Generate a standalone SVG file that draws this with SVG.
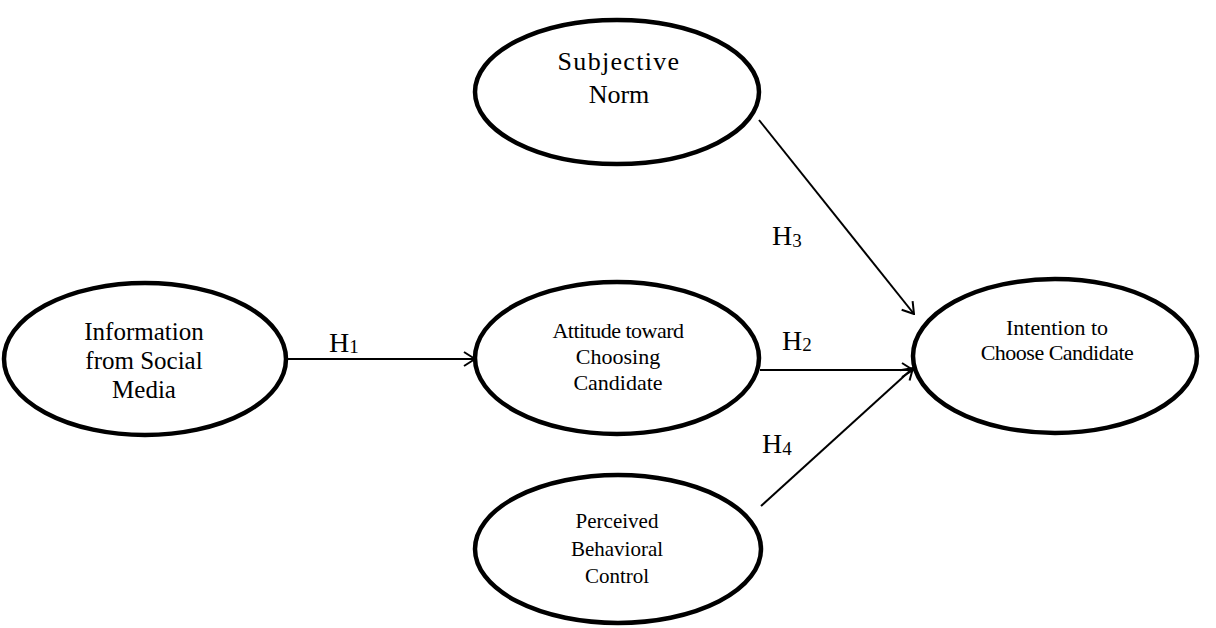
<svg xmlns="http://www.w3.org/2000/svg" width="1216" height="628" viewBox="0 0 1216 628">
<style>
.node{fill:#fff;stroke:#000;stroke-width:4.5}
.t{font-family:"Liberation Serif","Times New Roman",serif;fill:#000;text-anchor:middle}
.h{font-family:"Liberation Serif","Times New Roman",serif;fill:#000;font-size:28px}
.sub{font-size:19px}
.c{fill:none;stroke:#000;stroke-width:2}
</style>
<defs>
<marker id="arr" viewBox="0 0 14 16" refX="13" refY="8" markerWidth="14" markerHeight="16" markerUnits="userSpaceOnUse" orient="auto">
<path d="M2,1 L13,8 L2,15" fill="none" stroke="#000" stroke-width="2"/>
</marker>
</defs>
<rect width="1216" height="628" fill="#fff"/>
<g id="connectors">
<line class="c" x1="287" y1="359" x2="475" y2="359" marker-end="url(#arr)"/>
<line class="c" x1="760" y1="370" x2="913" y2="370" stroke-width="3" marker-end="url(#arr)"/>
<line class="c" x1="759" y1="120" x2="914" y2="314" marker-end="url(#arr)"/>
<line class="c" x1="761" y1="506" x2="913" y2="368" stroke-width="2.5" marker-end="url(#arr)"/>
</g>
<g id="labels">
<text class="h" x="329" y="352">H<tspan class="sub" dy="1">1</tspan></text>
<text class="h" x="782" y="350">H<tspan class="sub" dy="1">2</tspan></text>
<text class="h" x="772" y="245">H<tspan class="sub" dy="2">3</tspan></text>
<text class="h" x="762" y="453">H<tspan class="sub" dy="2">4</tspan></text>
</g>
<g id="info">
<ellipse class="node" cx="145" cy="359" rx="141" ry="76"/>
<text class="t" font-size="25" x="144"><tspan x="144" y="340">Information</tspan><tspan x="144" y="369">from Social</tspan><tspan x="144" y="398">Media</tspan></text>
</g>
<g id="attitude">
<ellipse class="node" cx="617" cy="358" rx="142" ry="76"/>
<text class="t" font-size="22" x="618"><tspan x="618" y="338" letter-spacing="-0.5">Attitude toward</tspan><tspan x="618" y="364">Choosing</tspan><tspan x="618" y="390">Candidate</tspan></text>
</g>
<g id="intention">
<ellipse class="node" cx="1055" cy="356" rx="142" ry="77"/>
<text class="t" font-size="22" x="1057"><tspan x="1057" y="335">Intention to</tspan><tspan x="1057" y="360" letter-spacing="-0.5">Choose Candidate</tspan></text>
</g>
<g id="subjective">
<ellipse class="node" cx="617" cy="92" rx="142" ry="72"/>
<text class="t" font-size="26" x="619"><tspan x="619" y="70" letter-spacing="1.3">Subjective</tspan><tspan x="619" y="103">Norm</tspan></text>
</g>
<g id="perceived">
<ellipse class="node" cx="618" cy="549" rx="143" ry="74"/>
<text class="t" font-size="21" x="617"><tspan x="617" y="528">Perceived</tspan><tspan x="617" y="556">Behavioral</tspan><tspan x="617" y="583">Control</tspan></text>
</g>
</svg>
